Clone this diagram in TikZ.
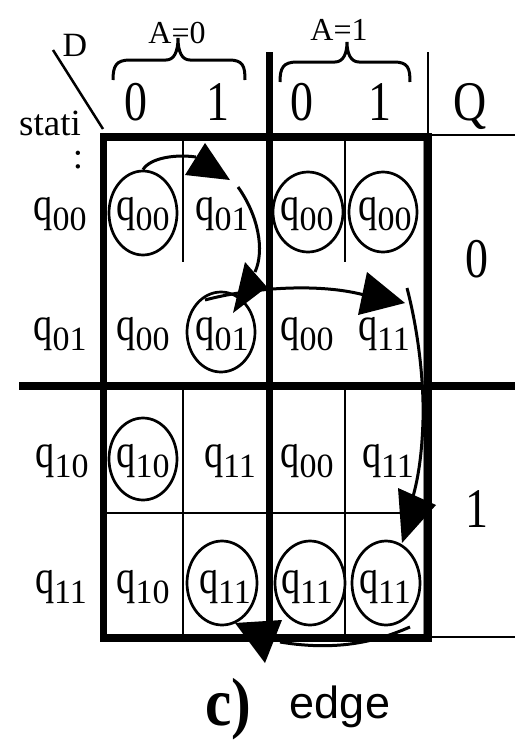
\documentclass[tikz,border=0pt]{standalone}
\usepackage{graphicx}
\usepackage{fontspec}
\setmainfont{Liberation Serif}
\newfontfamily\sansf{Liberation Sans}
\usetikzlibrary{shapes.geometric}
\newcommand\qq[1]{\scalebox{0.8}[1]{\fontsize{48}{48}\selectfont q}\raisebox{-10pt}{\fontsize{34}{34}\selectfont #1}}
\newcommand\hd[1]{\scalebox{0.82}[1]{\fontsize{56}{56}\selectfont #1}}
\begin{document}
\begin{tikzpicture}[x=1pt,y=-1pt,
  font=\fontsize{52}{52}\selectfont,
  bigline/.style={line width=8pt},
  midline/.style={line width=7pt},
  gridline/.style={line width=1.7pt},
  thinline/.style={line width=2pt},
  circ/.style={draw, ellipse, line width=2.7pt, inner sep=0pt},
  txt/.style={inner sep=0pt, anchor=base},
  arr/.style={line width=3pt},
  tri/.style={fill=black}]
\useasboundingbox (0,0) rectangle (515,745);
% grid
\draw[bigline] (100,137) -- (432,137);
\draw[thinline] (432,134.5) -- (515,134.5);
\draw[midline] (103.5,133) -- (103.5,642);
\draw[midline] (269,52) -- (269,642);
\draw[thinline] (428,52) -- (428,133);
\draw[bigline] (428,133) -- (428,642);
\draw[bigline] (19,386) -- (515,386);
\draw[bigline] (100,637.5) -- (432,637.5);
\draw[thinline] (432,636.5) -- (515,636.5);
\draw[gridline] (183,141) -- (183,262);
\draw[gridline] (345,141) -- (345,262);
\draw[gridline] (183,390) -- (183,634);
\draw[gridline] (345,390) -- (345,634);
\draw[gridline] (107,513) -- (424,513);
\draw[line width=1pt, black!45] (423,141) -- (423,634);
\draw[line width=2.5pt] (53,50) -- (103,129);
% braces
\draw[line width=3pt] (113,80) .. controls (113,66) and (116,60) .. (130,60) -- (166,60)
  .. controls (174,60) and (178,52) .. (178,38) .. controls (178,52) and (182,60) .. (190,60)
  -- (229,60) .. controls (243,60) and (245,66) .. (245,80);
\draw[line width=3pt] (280,82) .. controls (280,68) and (283,62) .. (297,62) -- (335,62)
  .. controls (343,62) and (347,54) .. (347,42) .. controls (347,54) and (351,62) .. (359,62)
  -- (394,62) .. controls (408,62) and (410,68) .. (410,82);
% headers
\node[txt, font=\fontsize{34}{34}\selectfont] (dlab) at (75,56) {D};
\node[txt, anchor=base west, font=\fontsize{37}{37}\selectfont] (stati) at (19,135) {stati};
\node[txt, font=\fontsize{37}{37}\selectfont] (colon) at (78,168) {:};
\node[txt, font=\fontsize{32}{32}\selectfont] (a0) at (177,43) {A=0};
\node[txt, font=\fontsize{32}{32}\selectfont] (a1) at (339,40) {A=1};
\node[txt] (h0) at (136,120) {\hd{0}};
\node[txt] (h1) at (218,120) {\hd{1}};
\node[txt] (h2) at (302,120) {\hd{0}};
\node[txt] (h3) at (380,120) {\hd{1}};
\node[txt] (hq) at (470,120) {\hd{Q}};
% row labels
\node[txt] (r1) at (60,220) {\qq{00}};
\node[txt] (r2) at (60,340) {\qq{01}};
\node[txt] (r3) at (62,467) {\qq{10}};
\node[txt] (r4) at (61,593) {\qq{11}};
% cells
\node[txt] (t11) at (143,220) {\qq{00}};
\node[txt] (t12) at (222,220) {\qq{01}};
\node[txt] (t13) at (307,220) {\qq{00}};
\node[txt] (t14) at (385,220) {\qq{00}};
\node[txt] (t21) at (143,340) {\qq{00}};
\node[txt] (t22) at (222,340) {\qq{01}};
\node[txt] (t23) at (307,340) {\qq{00}};
\node[txt] (t24) at (384,340) {\qq{11}};
\node[txt] (t31) at (143,467) {\qq{10}};
\node[txt] (t32) at (230,467) {\qq{11}};
\node[txt] (t33) at (307,467) {\qq{00}};
\node[txt] (t34) at (388,467) {\qq{11}};
\node[txt] (t41) at (143,593) {\qq{10}};
\node[txt] (t42) at (225,593) {\qq{11}};
\node[txt] (t43) at (307,593) {\qq{11}};
\node[txt] (t44) at (385,593) {\qq{11}};
% Q column
\node[txt] (q0) at (477,277) {\hd{0}};
\node[txt] (q1) at (477,527) {\hd{1}};
% circles
\node[circ, minimum width=68pt, minimum height=84pt] (e11) at (143,213) {};
\node[circ, minimum width=70pt, minimum height=80pt] (e13) at (308,212) {};
\node[circ, minimum width=68pt, minimum height=80pt] (e14) at (383,212) {};
\node[circ, minimum width=68pt, minimum height=80pt] (e22) at (221,332) {};
\node[circ, minimum width=68pt, minimum height=82pt] (e31) at (143,459) {};
\node[circ, minimum width=70pt, minimum height=84pt] (e42) at (222,583) {};
\node[circ, minimum width=70pt, minimum height=84pt] (e43) at (310,583) {};
\node[circ, minimum width=68pt, minimum height=84pt] (e44) at (386,583) {};
% arrow coordinates
\coordinate (p1e) at (196,157);
\coordinate (p2s) at (238,187);
\coordinate (p2e) at (255,272);
\coordinate (p3s) at (205,300);
\coordinate (p3e) at (368,296);
\coordinate (p4s) at (407,288);
\coordinate (p4m) at (423,420);
\coordinate (p4e) at (412,500);
\coordinate (p5s) at (410,627);
\coordinate (p5e) at (280,642);
% arrows
\draw[arr] (e11.north) .. controls (150,158) and (175,154) .. (p1e);
\fill[tri] (205,143) -- (185,175) -- (230,180) -- cycle;
\draw[arr] (p2s) .. controls (258,215) and (265,250) .. (p2e);
\fill[tri] (245,262) -- (267,287) -- (233,313) -- cycle;
\draw[arr] (p3s) .. controls (250,288) and (320,282) .. (p3e);
\fill[tri] (367,272) -- (405,303) -- (358,315) -- cycle;
\draw[arr] (p4s) .. controls (418,330) and (424,380) .. (p4m) .. controls (422,455) and (418,480) .. (p4e);
\fill[tri] (398,488) -- (436,505) -- (402,543) -- cycle;
\draw[arr] (p5s) .. controls (380,640) and (340,652) .. (p5e);
\fill[tri] (235,623) -- (282,620) -- (265,663) -- cycle;
% caption
\node[txt] (cap) at (228,725) {\scalebox{0.87}[1]{\fontsize{68}{68}\selectfont\bfseries c)}};
\node[txt, font=\fontsize{45}{45}\selectfont\sansf] (edge) at (340,718) {edge};
\end{tikzpicture}
\end{document}
